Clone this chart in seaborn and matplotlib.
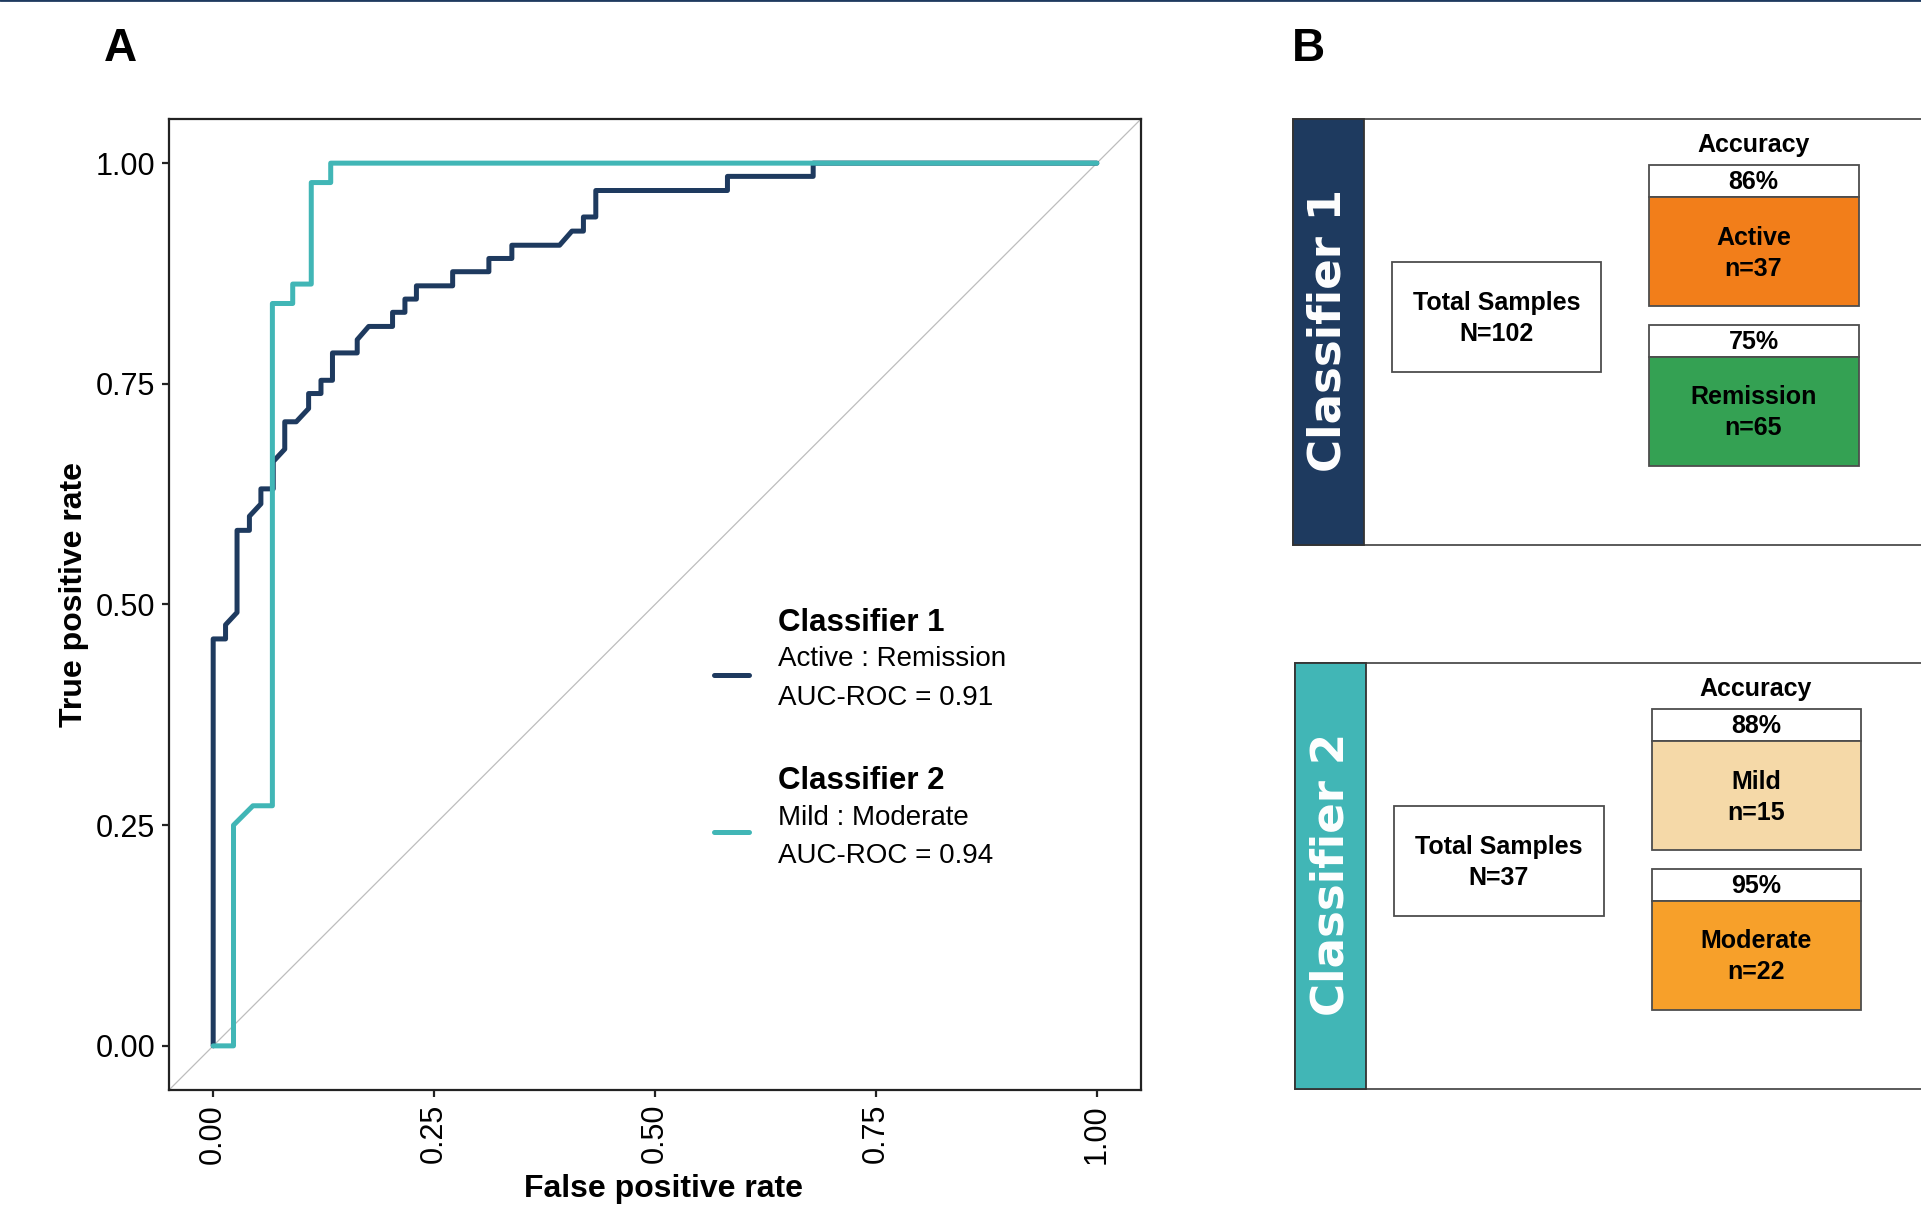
import numpy as np
import pandas as pd
import matplotlib
matplotlib.use("Agg")
import matplotlib.pyplot as plt
import seaborn as sns
from matplotlib.patches import Rectangle
from matplotlib.lines import Line2D

# ROC curve vertices
c1_fpr = [0.000, 0.000, 0.014, 0.014, 0.027, 0.027, 0.041, 0.041, 0.054, 0.054,
          0.068, 0.068, 0.081, 0.081, 0.094, 0.108, 0.108, 0.122, 0.122, 0.135,
          0.135, 0.163, 0.163, 0.176, 0.203, 0.203, 0.217, 0.217, 0.230, 0.230,
          0.271, 0.271, 0.312, 0.312, 0.338, 0.338, 0.392, 0.406, 0.419, 0.419,
          0.433, 0.433, 0.582, 0.582, 0.679, 0.679, 1.000]
c1_tpr = [0.000, 0.461, 0.461, 0.477, 0.491, 0.584, 0.584, 0.600, 0.614, 0.631,
          0.631, 0.662, 0.676, 0.707, 0.707, 0.722, 0.739, 0.739, 0.754, 0.754,
          0.785, 0.785, 0.800, 0.815, 0.815, 0.831, 0.831, 0.846, 0.846, 0.861,
          0.861, 0.877, 0.877, 0.892, 0.892, 0.907, 0.907, 0.923, 0.923, 0.939,
          0.939, 0.969, 0.969, 0.985, 0.985, 1.000, 1.000]

c2_fpr = [0.000, 0.023, 0.023, 0.045, 0.067, 0.067, 0.090, 0.090, 0.111, 0.111,
          0.133, 0.133, 1.000]
c2_tpr = [0.000, 0.000, 0.250, 0.272, 0.272, 0.841, 0.841, 0.863, 0.863, 0.978,
          0.978, 1.000, 1.000]

classifiers = ["Classifier 1", "Classifier 2"]
comparisons = ["Active : Remission", "Mild : Moderate"]
auc_values = [0.91, 0.94]
line_colors = ["#1E3A5F", "#41B6B6"]

total_n = [102, 37]
groups = [["Active", "Remission"], ["Mild", "Moderate"]]
group_n = [[37, 65], [15, 22]]
group_acc = [[86, 75], [88, 95]]
group_colors = [["#F27E1A", "#34A153"], ["#F5D9A8", "#F7A02A"]]

df = pd.concat([
    pd.DataFrame({"fpr": c1_fpr, "tpr": c1_tpr, "classifier": classifiers[0]}),
    pd.DataFrame({"fpr": c2_fpr, "tpr": c2_tpr, "classifier": classifiers[1]}),
], ignore_index=True)

sns.set_theme(style="ticks")
plt.rcParams["font.family"] = ["Liberation Sans", "DejaVu Sans"]
plt.rcParams["text.color"] = "black"
plt.rcParams["axes.labelcolor"] = "black"

W, H = 1921, 1206
fig = plt.figure(figsize=(W / 100, H / 100), dpi=100)

# ---- panel A: ROC curves
ax = fig.add_axes([169 / W, 1 - 1090 / H, 972 / W, 971 / H])
ax.axline((0, 0), (1, 1), color="#BDBDBD", lw=0.9, zorder=0)
sns.lineplot(data=df, x="fpr", y="tpr", hue="classifier", hue_order=classifiers,
             palette=line_colors, sort=False, estimator=None, lw=3.6,
             legend=False, ax=ax)

ax.set_xlim(-0.05, 1.05)
ax.set_ylim(-0.05, 1.05)
ticks = [0, 0.25, 0.5, 0.75, 1.0]
ax.set_xticks(ticks)
ax.set_yticks(ticks)
ax.set_xticklabels([f"{t:.2f}" for t in ticks], rotation=90)
ax.set_yticklabels([f"{t:.2f}" for t in ticks])
ax.tick_params(axis="both", labelsize=22, length=5, width=1.6,
               color="#222222", labelcolor="black", pad=5)
for s in ax.spines.values():
    s.set_color("#222222")
    s.set_linewidth(1.6)
ax.set_xlabel("False positive rate", fontsize=23, fontweight="bold")
ax.set_ylabel("True positive rate", fontsize=23, fontweight="bold")
ax.xaxis.set_label_coords(0.509, -0.087)
ax.yaxis.set_label_coords(-0.082, 0.51)

# custom legend
leg_y = [(0.481, 0.4442, 0.4039, 0.4274), (0.3183, 0.2802, 0.2410, 0.2657)]
for i, name in enumerate(classifiers):
    hy, ly1, ly2, liney = leg_y[i]
    ax.text(0.6265, hy, name, transform=ax.transAxes, fontsize=22.5,
            fontweight="bold", va="center", ha="left")
    ax.text(0.6265, ly1, comparisons[i], transform=ax.transAxes, fontsize=20,
            va="center", ha="left")
    ax.text(0.6265, ly2, f"AUC-ROC = {auc_values[i]:.2f}", transform=ax.transAxes,
            fontsize=20, va="center", ha="left")
    ax.add_line(Line2D([0.5607, 0.5962], [liney, liney], transform=ax.transAxes,
                       color=line_colors[i], lw=3.6))

# ---- panel B: classifier summary boxes (pixel coordinates)
bax = fig.add_axes([0, 0, 1, 1])
bax.set_xlim(0, W)
bax.set_ylim(H, 0)
bax.axis("off")

origins = [(1292.5, 118.8), (1295.0, 662.8)]
block_h = 426.4
edge = "#4D4D4D"
for i, (x0, y0) in enumerate(origins):
    bax.add_patch(Rectangle((x0, y0), 800, block_h, fc="white", ec=edge, lw=1.3))
    bax.add_patch(Rectangle((x0, y0), 71, block_h, fc=line_colors[i], ec="#333333", lw=1.3))
    bax.text(x0 + 35.5, y0 + block_h / 2 - 2, classifiers[i], rotation=90,
             color="white", fontsize=32.5, fontweight="bold", ha="center",
             va="center", family="DejaVu Sans")

    # total samples box
    bax.add_patch(Rectangle((x0 + 99.2, y0 + 143.4), 209.5, 110, fc="white",
                            ec=edge, lw=1.3))
    bax.text(x0 + 204, y0 + 199.5, f"Total Samples\nN={total_n[i]}", fontsize=18,
             fontweight="bold", ha="center", va="center", linespacing=1.35)

    bax.text(x0 + 461, y0 + 26.5, "Accuracy", fontsize=18, fontweight="bold",
             ha="center", va="center")
    for j in range(2):
        ty = y0 + 46.6 + j * 159.3
        bax.add_patch(Rectangle((x0 + 356.5, ty), 209.5, 31.8, fc="white",
                                ec=edge, lw=1.3))
        bax.text(x0 + 461, ty + 17, f"{group_acc[i][j]}%", fontsize=18,
                 fontweight="bold", ha="center", va="center")
        bax.add_patch(Rectangle((x0 + 356.5, ty + 31.8), 209.5, 109,
                                fc=group_colors[i][j], ec=edge, lw=1.3))
        bax.text(x0 + 461, ty + 31.8 + 56, f"{groups[i][j]}\nn={group_n[i][j]}",
                 fontsize=18, fontweight="bold", ha="center", va="center",
                 linespacing=1.35)

# panel letters
bax.text(120, 49, "A", fontsize=33, fontweight="bold", ha="center", va="center")
bax.text(1308, 49, "B", fontsize=33, fontweight="bold", ha="center", va="center")

fig.add_artist(Line2D([0, 1], [1, 1], transform=fig.transFigure,
                      color="#1E3A5F", lw=2))

fig.savefig("out.png", dpi=100)
